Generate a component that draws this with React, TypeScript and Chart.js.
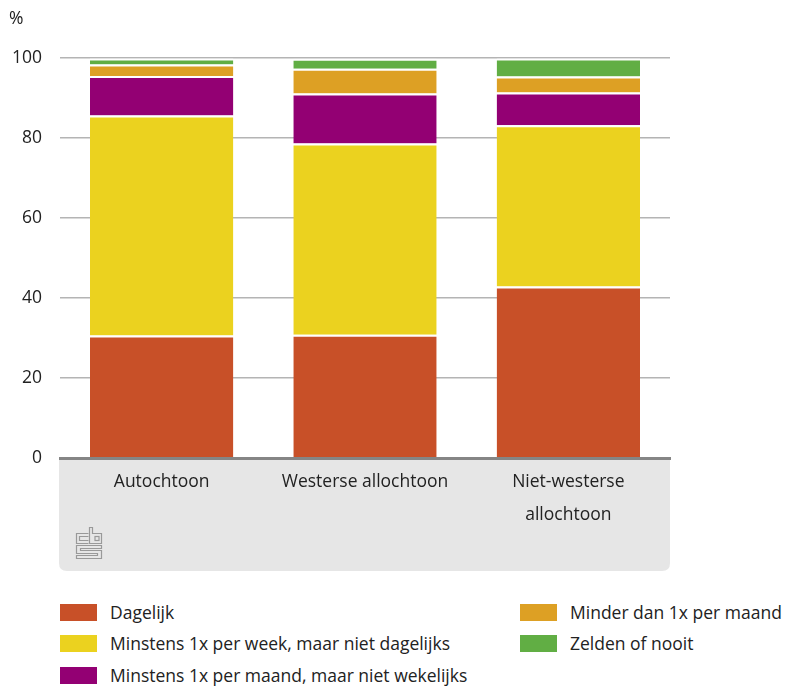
import React, { useEffect, useRef } from "react";
import { Chart, registerables } from "chart.js";

Chart.register(...registerables);

const categories: (string | string[])[] = ["Autochtoon", "Westerse allochtoon", ["Niet-westerse", "allochtoon"]];
const seriesLabels = [
  "Dagelijk",
  "Minstens 1x per week, maar niet dagelijks",
  "Minstens 1x per maand, maar niet wekelijks",
  "Minder dan 1x per maand",
  "Zelden of nooit",
];
const dagelijk = [30.6, 30.8, 42.9];
const wekelijks = [55.0, 47.8, 40.3];
const maandelijks = [9.9, 12.5, 8.2];
const minderMaand = [2.9, 6.2, 4.0];
const zelden = [1.5, 2.5, 4.5];
const yTicks = [0, 20, 40, 60, 80, 100];

const colors = ["#C85028", "#EBD21F", "#930073", "#DDA024", "#61AE44"];
const FONT = "'Open Sans', 'Noto Sans', sans-serif";
const FS = 17.5;

const panelPlugin = {
  id: "panel",
  beforeDraw(chart: any) {
    const { ctx, chartArea } = chart;
    const x0 = 59, x1 = chartArea.right, y0 = chartArea.bottom, y1 = 571, r = 8;
    ctx.save();
    ctx.fillStyle = "#E6E6E6";
    ctx.beginPath();
    ctx.moveTo(x0, y0);
    ctx.lineTo(x1, y0);
    ctx.lineTo(x1, y1 - r);
    ctx.quadraticCurveTo(x1, y1, x1 - r, y1);
    ctx.lineTo(x0 + r, y1);
    ctx.quadraticCurveTo(x0, y1, x0, y1 - r);
    ctx.closePath();
    ctx.fill();
    ctx.restore();
  },
  afterDraw(chart: any) {
    const { ctx } = chart;
    ctx.save();
    ctx.fillStyle = "#222";
    ctx.font = `${FS}px ${FONT}`;
    ctx.textBaseline = "middle";
    ctx.textAlign = "left";
    ctx.fillText("%", 9, 19);
    ctx.strokeStyle = "#999";
    ctx.lineWidth = 1.2;
    const lx = 76.5, ly = 527.5;
    ctx.beginPath();
    ctx.moveTo(lx + 12, ly + 6);
    ctx.lineTo(lx, ly + 6);
    ctx.lineTo(lx, ly + 16);
    ctx.lineTo(lx + 12, ly + 16);
    ctx.moveTo(lx + 12, ly + 9);
    ctx.lineTo(lx + 3, ly + 9);
    ctx.lineTo(lx + 3, ly + 13);
    ctx.lineTo(lx + 12, ly + 13);
    ctx.stroke();
    ctx.beginPath();
    ctx.moveTo(lx + 13, ly);
    ctx.lineTo(lx + 16, ly);
    ctx.lineTo(lx + 16, ly + 6);
    ctx.lineTo(lx + 25, ly + 6);
    ctx.lineTo(lx + 25, ly + 16);
    ctx.lineTo(lx + 13, ly + 16);
    ctx.closePath();
    ctx.stroke();
    ctx.strokeRect(lx + 18.5, ly + 9, 4, 4);
    ctx.beginPath();
    ctx.moveTo(lx + 25, ly + 18);
    ctx.lineTo(lx, ly + 18);
    ctx.lineTo(lx, ly + 26);
    ctx.lineTo(lx + 21, ly + 26);
    ctx.lineTo(lx + 21, ly + 28);
    ctx.lineTo(lx, ly + 28);
    ctx.lineTo(lx, ly + 31);
    ctx.lineTo(lx + 25, ly + 31);
    ctx.lineTo(lx + 25, ly + 23);
    ctx.lineTo(lx + 4, ly + 23);
    ctx.lineTo(lx + 4, ly + 21);
    ctx.lineTo(lx + 25, ly + 21);
    ctx.closePath();
    ctx.stroke();
    ctx.restore();
  },
};

export default function App() {
  const ref = useRef<HTMLCanvasElement>(null);

  useEffect(() => {
    if (!ref.current) return;
    const series = [dagelijk, wekelijks, maandelijks, minderMaand, zelden];
    const chart = new Chart(ref.current, {
      type: "bar",
      data: {
        labels: categories as any,
        datasets: series.map((d, i) => ({
          label: seriesLabels[i],
          data: d,
          backgroundColor: colors[i],
          borderColor: "#FFFFFF",
          borderWidth: { top: 2, bottom: 0, left: 0, right: 0 },
          borderSkipped: false,
          categoryPercentage: 1,
          barPercentage: 0.705,
        })),
      },
      options: {
        animation: false,
        responsive: false,
        maintainAspectRatio: false,
        layout: { padding: { top: 58, right: 115, bottom: 29, left: 0 } },
        plugins: { legend: { display: false }, tooltip: { enabled: false } },
        scales: {
          x: {
            stacked: true,
            grid: { display: false, drawTicks: false },
            border: { display: true, color: "#858585", width: 3, z: 1 },
            ticks: {
              color: "#222",
              padding: 8,
              font: { family: FONT, size: FS, lineHeight: 1.85 },
              maxRotation: 0,
              autoSkip: false,
            },
            afterFit(scale: any) {
              scale.height = 113;
            },
          },
          y: {
            stacked: true,
            min: 0,
            max: 100,
            afterBuildTicks(scale: any) {
              scale.ticks = yTicks.map((v) => ({ value: v }));
            },
            afterFit(scale: any) {
              scale.width = 60;
            },
            grid: { color: "#B4B4B4", lineWidth: 1.5, drawTicks: false },
            border: { display: false },
            ticks: {
              color: "#222",
              padding: 18,
              font: { family: FONT, size: FS },
            },
          },
        },
      },
      plugins: [panelPlugin],
    });
    return () => chart.destroy();
  }, []);

  const legendRows = [
    { i: 0, x: 60, y: 612 },
    { i: 1, x: 60, y: 643 },
    { i: 2, x: 60, y: 675 },
    { i: 3, x: 520, y: 612 },
    { i: 4, x: 520, y: 643 },
  ];

  return (
    <div style={{ position: "absolute", left: 0, top: 0, width: 785, height: 686, background: "#fff", fontFamily: FONT }}>
      <canvas ref={ref} width={785} height={600} style={{ position: "absolute", left: 0, top: 0 }} />
      {legendRows.map((r) => (
        <div key={r.i}>
          <div
            style={{
              position: "absolute",
              left: r.x,
              top: r.y - 8,
              width: 37,
              height: 17,
              background: colors[r.i],
            }}
          />
          <div
            style={{
              position: "absolute",
              left: r.x + 50,
              top: r.y - 12,
              height: 24,
              lineHeight: "24px",
              fontSize: FS,
              color: "#222",
              whiteSpace: "nowrap",
            }}
          >
            {seriesLabels[r.i]}
          </div>
        </div>
      ))}
    </div>
  );
}
